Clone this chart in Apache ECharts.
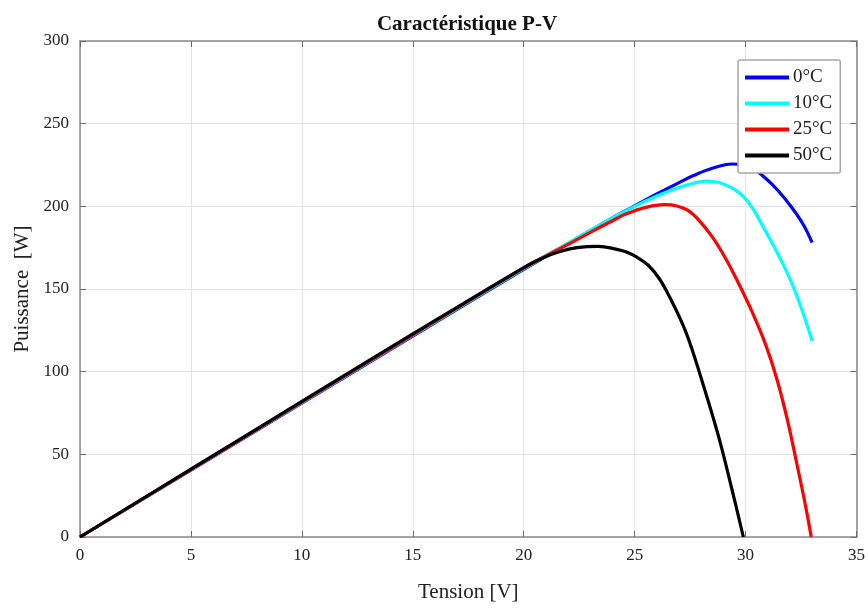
<!DOCTYPE html>
<html>
<head>
<meta charset="utf-8">
<script src="https://cdn.jsdelivr.net/npm/echarts@6/dist/echarts.min.js"></script>
<style>html,body{margin:0;padding:0;background:#fff}#c{width:868px;height:608px}</style>
</head>
<body>
<div id="c"></div>
<script>
var seriesNames = ['0°C', '10°C', '25°C', '50°C'];
var seriesColors = ['#0000ff', '#00ffff', '#ff0000', '#000000'];
var xTicks = { min: 0, max: 35, interval: 5 };
var yTicks = { min: 0, max: 300, interval: 50 };

var pv0 = [[0,0],[5,40.5],[10,81],[15,121.5],[20,161.8],[22,177.5],[24,193],[25,200.3],[26,207.5],[27,214.3],[27.6,218.3],[28.5,223],[29.4,225.6],[30.2,223.8],[30.9,217],[31.5,209],[32.1,199],[32.6,189],[33,178]];
var pv10 = [[0,0],[5,40.7],[10,81.3],[15,121.9],[20,162.3],[22,177.8],[24,193],[25,200],[26,206.3],[27,211.4],[27.6,213.8],[28.2,215.3],[28.8,214.4],[29.4,211],[29.9,206],[30.4,197],[30.9,185],[31.5,170],[32.1,153],[32.6,135],[33,118.5]];
var pv25 = [[0,0],[5,40.8],[10,81.6],[15,122.3],[20,162.8],[21,170],[22,177],[23,184.3],[24,191.3],[24.6,195.3],[25.5,199.4],[26.35,201],[26.9,200.2],[27.4,197.5],[27.9,191.5],[28.5,181.5],[29.1,168.5],[29.7,153],[30.3,136],[30.9,116.5],[31.4,96],[31.9,70],[32.3,45],[32.7,19],[32.96,0]];
var pv50 = [[0,0],[5,41],[10,82],[15,122.8],[20,163],[20.8,168.5],[21.6,172.5],[22.4,175],[23.35,175.8],[24.2,174],[24.6,172.5],[25.1,169.3],[25.6,164.5],[26.1,156.5],[26.6,144.5],[27.2,127.5],[27.6,113],[28,96],[28.5,74],[28.9,55],[29.4,28],[29.9,0]];
var allData = [pv0, pv10, pv25, pv50];

var font = 'Liberation Serif';
var axisLineStyle = { color: '#8a8a8a', width: 1.5 };
var splitStyle = { color: '#e4e4e4', width: 1 };

function baseAxis(extra) {
  return Object.assign({
    type: 'value',
    axisLine: { show: true, onZero: false, lineStyle: axisLineStyle },
    axisTick: { show: true, inside: true, length: 6, lineStyle: { color: '#6a6a6a', width: 1 } },
    splitLine: { show: false },
    axisLabel: { show: false }
  }, extra);
}

var option = {
  animation: false,
  backgroundColor: '#fff',
  title: {
    text: 'Caractéristique P-V',
    left: 462, top: 9, textAlign: 'center',
    textStyle: { fontFamily: font, fontWeight: 'bold', fontSize: 21, color: '#111' }
  },
  legend: {
    orient: 'vertical',
    left: 738, top: 60,
    data: seriesNames,
    icon: 'rect',
    itemWidth: 44, itemHeight: 4,
    itemGap: 7,
    padding: [8, 8, 8, 7],
    backgroundColor: '#fff',
    borderColor: '#a8a8a8', borderWidth: 1.5, borderRadius: 2,
    textStyle: { fontFamily: font, fontSize: 19, color: '#222', lineHeight: 18, padding: [0, 0, 0, -1] }
  },
  grid: { left: 80, right: 11, top: 41, bottom: 70, containLabel: false },
  xAxis: [
    baseAxis({
      position: 'bottom', min: xTicks.min, max: xTicks.max, interval: xTicks.interval,
      splitLine: { show: true, lineStyle: splitStyle },
      axisLabel: { show: true, fontFamily: font, fontSize: 17, color: '#222', margin: 10 },
      name: 'Tension [V]', nameLocation: 'middle', nameGap: 45,
      nameTextStyle: { fontFamily: font, fontSize: 21, color: '#222' }
    }),
    baseAxis({ position: 'top', min: xTicks.min, max: xTicks.max, interval: xTicks.interval })
  ],
  yAxis: [
    baseAxis({
      position: 'left', min: yTicks.min, max: yTicks.max, interval: yTicks.interval,
      splitLine: { show: true, lineStyle: splitStyle },
      axisLabel: { show: true, fontFamily: font, fontSize: 17, color: '#222', margin: 11 },
      name: 'Puissance  [W]', nameLocation: 'middle', nameGap: 47, nameRotate: 90,
      nameTextStyle: { fontFamily: font, fontSize: 21, color: '#222' }
    }),
    baseAxis({ position: 'right', min: yTicks.min, max: yTicks.max, interval: yTicks.interval })
  ],
  series: seriesNames.map(function (n, i) {
    return {
      name: n, type: 'line', data: allData[i],
      showSymbol: false, symbol: 'none',
      smooth: 0.4,
      color: seriesColors[i],
      lineStyle: { color: seriesColors[i], width: 3.2 },
      z: 2 + i
    };
  })
};
echarts.init(document.getElementById('c'), null, { renderer: 'canvas' }).setOption(option);
</script>
</body>
</html>
